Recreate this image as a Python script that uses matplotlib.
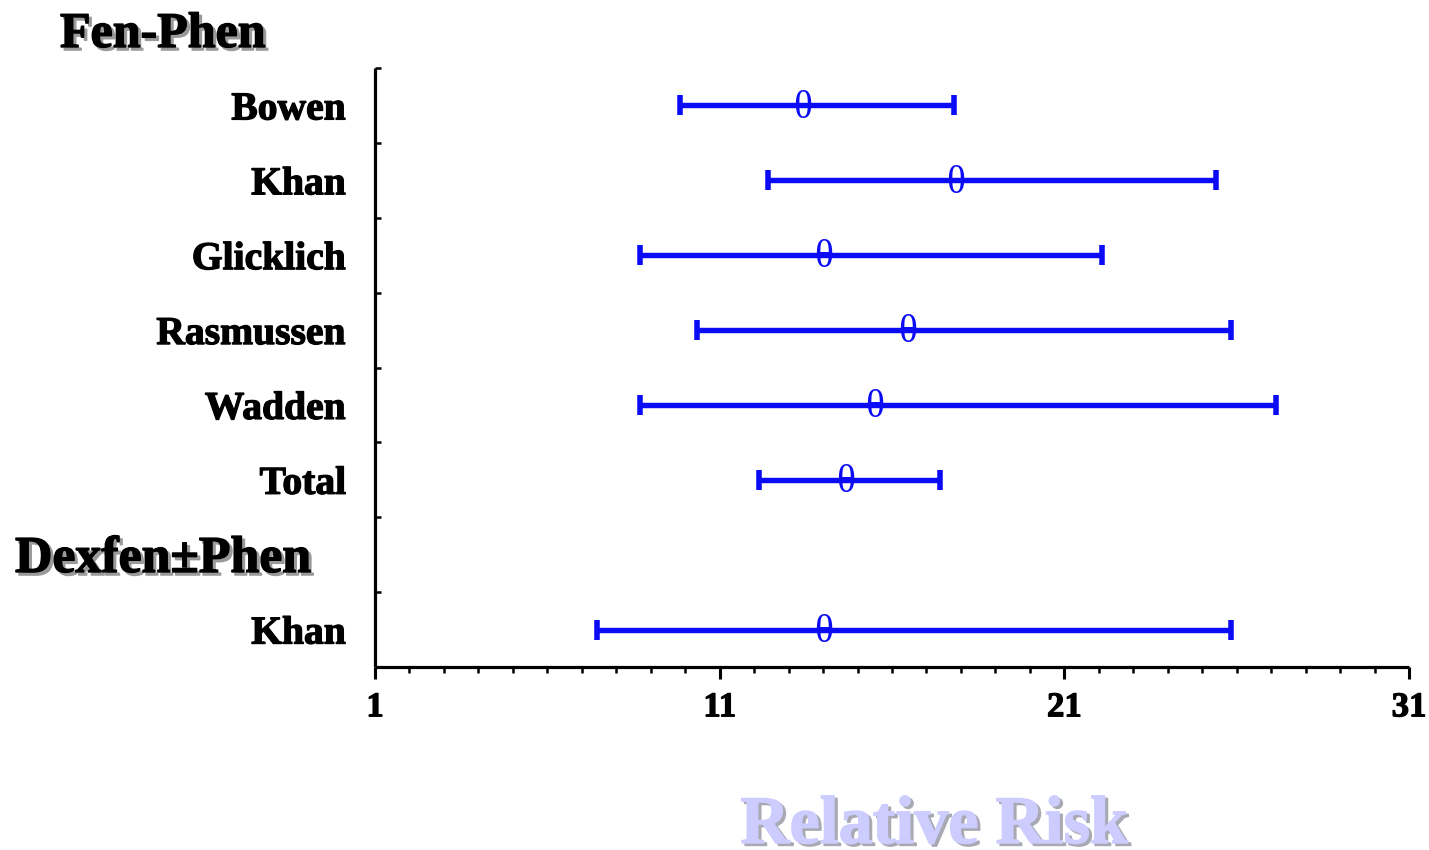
import matplotlib
matplotlib.use("Agg")
import matplotlib.pyplot as plt
import matplotlib.patheffects as pe
from matplotlib.ticker import MultipleLocator, FixedLocator
from matplotlib.transforms import offset_copy

# ---- data ----
studies = ["Bowen", "Khan", "Glicklich", "Rasmussen", "Wadden", "Total", "", "Khan"]
rr_point = [13.4, 17.85, 14.0, 16.45, 15.5, 14.65, None, 14.0]
rr_low = [9.85, 12.4, 8.7, 10.35, 8.7, 12.15, None, 7.45]
rr_high = [17.8, 25.4, 22.1, 25.85, 27.15, 17.4, None, 25.85]
group_titles = ["Fen-Phen", "Dexfen\u00b1Phen"]
x_ticks = [1, 11, 21, 31]
x_label = "Relative Risk"

BLUE = "#0b0bf5"
SERIF = ["Liberation Serif", "DejaVu Serif"]

fig = plt.figure(figsize=(14.29, 8.5), dpi=100)
ax = fig.add_axes([375/1429, 1-667/850, (1409-375)/1429, (667-68)/850])

n = len(studies)
ypos = [n - 0.5 - i for i in range(n)]

for y, p, lo, hi in zip(ypos, rr_point, rr_low, rr_high):
    if p is None:
        continue
    ax.errorbar([p], [y], xerr=[[p - lo], [hi - p]], fmt="none", ecolor=BLUE,
                elinewidth=3.9, capsize=7.2, capthick=4.0)
    t = ax.text(p, y, "\u03b8", color=BLUE, fontsize=28.5, family=["Liberation Serif"],
                ha="center", va="center")
    t.set_transform(offset_copy(ax.transData, fig=fig, x=0, y=-2, units="points"))

bold_fx = [pe.withStroke(linewidth=0.9, foreground="black")]

ax.set_xlim(1, 31)
ax.set_ylim(0, n)
ax.xaxis.set_major_locator(FixedLocator(x_ticks))
ax.xaxis.set_minor_locator(MultipleLocator(1))
ax.set_xticklabels([str(t) for t in x_ticks], fontsize=25, fontweight="bold", family=SERIF)
ax.set_yticks(ypos)
ax.set_yticklabels(studies, fontsize=28.5, fontweight="bold", family=SERIF)
for lab in ax.get_xticklabels() + ax.get_yticklabels():
    lab.set_path_effects(bold_fx)
ax.yaxis.set_minor_locator(FixedLocator(list(range(1, n + 1))))

ax.tick_params(axis="x", which="major", direction="out", length=8.5, width=2.2, pad=9)
ax.tick_params(axis="x", which="minor", direction="out", length=4, width=1.8)
ax.tick_params(axis="y", which="major", length=0, pad=21)
ax.tick_params(axis="y", which="minor", direction="in", length=4, width=1.8)

for s in ["top", "right"]:
    ax.spines[s].set_visible(False)
for s in ["left", "bottom"]:
    ax.spines[s].set_linewidth(2.3)
    ax.spines[s].set_capstyle("butt")


def shadow_text(x, y, s, transform, color, size, shadow, ha="left", va="baseline",
                dx=2.2, dy=-2.2, stroke=1.0):
    sh = offset_copy(transform, fig=fig, x=dx, y=dy, units="points")
    fig.text(x, y, s, transform=sh, color=shadow, fontsize=size, fontweight="bold",
             family=SERIF, ha=ha, va=va,
             path_effects=[pe.withStroke(linewidth=stroke, foreground=shadow)])
    fig.text(x, y, s, transform=transform, color=color, fontsize=size, fontweight="bold",
             family=SERIF, ha=ha, va=va,
             path_effects=[pe.withStroke(linewidth=stroke, foreground=color)])


shadow_text(60/1429, 1-47/850, group_titles[0], fig.transFigure, "black", 36, "#9a9a9a")
shadow_text(15/1429, 1-572/850, group_titles[1], fig.transFigure, "black", 37.3, "#9a9a9a")
shadow_text(934/1429, 1-843/850, x_label, fig.transFigure, "#ccccff", 49, "#a9a9b4",
            ha="center", dy=-1.8)

fig.savefig("out.png", dpi=100)
